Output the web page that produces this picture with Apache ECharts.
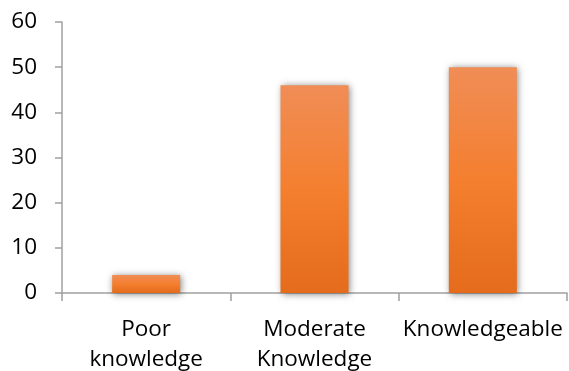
<!DOCTYPE html>
<html>
<head>
<meta charset="utf-8">
<script src="https://cdn.jsdelivr.net/npm/echarts@6/dist/echarts.min.js"></script>
<style>html,body{margin:0;padding:0;background:#fff}#c{width:569px;height:371px}</style>
</head>
<body>
<div id="c"></div>
<script>
const categories = ['Poor\nknowledge', 'Moderate\nKnowledge', 'Knowledgeable'];
const values = [4, 46, 50];
const yTicks = [0, 10, 20, 30, 40, 50, 60];

const chart = echarts.init(document.getElementById('c'), null, {renderer: 'canvas'});
const font = 'Open Sans';
chart.setOption({
  animation: false,
  grid: {left: 62, right: 2, top: 22, bottom: 78, containLabel: false, outerBoundsMode: 'none'},
  xAxis: {
    type: 'category',
    data: categories,
    axisLine: {lineStyle: {color: '#A0A0A0', width: 1.5}},
    axisTick: {show: true, length: 8, lineStyle: {color: '#A0A0A0', width: 1.5}},
    axisLabel: {color: '#000', fontFamily: font, fontSize: 22.5, lineHeight: 30, margin: 22, interval: 0}
  },
  yAxis: {
    type: 'value',
    min: yTicks[0], max: yTicks[yTicks.length - 1], interval: 10,
    splitLine: {show: false},
    axisLine: {show: true, lineStyle: {color: '#A0A0A0', width: 1.5}},
    axisTick: {show: true, length: 7, lineStyle: {color: '#A0A0A0', width: 1.5}},
    axisLabel: {color: '#000', fontFamily: font, fontSize: 22.5, margin: 25}
  },
  series: [{
    type: 'bar',
    data: values,
    barWidth: 68,
    itemStyle: {
      color: new echarts.graphic.LinearGradient(0, 0, 0, 1, [
        {offset: 0, color: '#F08D56'},
        {offset: 0.5, color: '#F47F2F'},
        {offset: 1, color: '#E46C1C'}
      ]),
      shadowColor: 'rgba(0,0,0,0.5)',
      shadowBlur: 7,
      shadowOffsetX: 1,
      shadowOffsetY: 1
    }
  }]
});
</script>
</body>
</html>
